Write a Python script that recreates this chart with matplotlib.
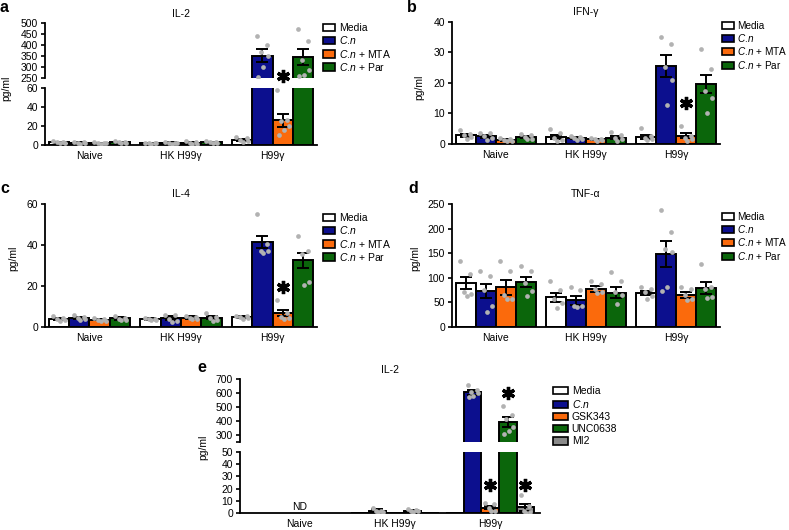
import numpy as np
import matplotlib
matplotlib.use("Agg")
import matplotlib.pyplot as plt
from matplotlib.patches import Patch

plt.rcParams['font.family'] = ['Liberation Sans', 'DejaVu Sans']
plt.rcParams['mathtext.fontset'] = 'custom'
plt.rcParams['mathtext.rm'] = 'Liberation Sans'
plt.rcParams['mathtext.it'] = 'Liberation Sans:italic'

W, H = 789, 530

groups = ["Naive", "HK H99\u03b3", "H99\u03b3"]
CN = r"$\mathit{C.\!n}$"
leg_abcd = ["Media", CN, CN + " + MTA", CN + " + Par"]
leg_e = ["Media", CN, "GSK343", "UNC0638", "MI2"]
col_abcd = ["white", "#0c0f8e", "#fb6a0c", "#0b660b"]
col_e = ["white", "#0c0f8e", "#fb6a0c", "#0b660b", "#8a8a8a"]

# a: IL-2 (rows = groups, cols = treatments)
a_mean = [[3.0, 2.5, 2.2, 3.0], [2.0, 2.3, 2.5, 3.0], [5.5, 352, 26, 345]]
a_sem = [[0.5, 0.4, 0.3, 0.5], [0.2, 0.4, 0.6, 0.5], [1.0, 28, 7, 38]]
a_dots = [
    [[4, 3.5, 3, 2.5, 2], [3.5, 3, 2.5, 2, 1.5], [3, 2.5, 2, 2, 1.5], [4.5, 3.5, 3, 2, 2]],
    [[2.5, 2.2, 2, 1.8, 1.5], [3.5, 2.5, 2, 2, 1.5], [4.5, 3, 2, 1.5, 1.5], [4.5, 3.5, 3, 2, 2]],
    [[8, 7, 5, 4, 3], [440, 400, 370, 350, 300, 255], [58, 26, 25, 20, 16, 11],
     [475, 420, 330, 285, 265, 258]],
]

# b: IFN-gamma
b_mean = [[2.9, 2.5, 1.4, 2.4], [2.3, 2.0, 1.5, 2.1], [2.3, 25.5, 2.7, 19.7]]
b_sem = [[0.5, 0.5, 0.3, 0.3], [0.7, 0.3, 0.3, 0.5], [0.6, 3.6, 0.8, 3.0]]
b_dots = [
    [[4.6, 3.4, 2.9, 2.2, 1.6], [3.7, 3.6, 2.6, 2.0, 1.2], [2.0, 1.6, 1.3, 1.0, 0.9], [3.3, 2.8, 2.2, 1.8, 1.5]],
    [[4.9, 3.7, 1.9, 1.4, 1.0], [2.5, 2.2, 2.0, 1.5, 1.2], [2.0, 1.8, 1.5, 1.2, 1.0], [3.8, 2.8, 2.0, 1.5, 1.0]],
    [[5.1, 2.6, 2.0, 1.5, 1.2], [35, 32.8, 25.4, 21.1, 12.7], [5.8, 2.5, 2.0, 1.5, 1.0], [31.3, 24.7, 17.3, 15.1, 10]],
]

# c: IL-4
c_mean = [[4.0, 4.5, 3.6, 4.2], [3.8, 4.2, 4.6, 4.6], [4.9, 41.5, 7.0, 32.5]]
c_sem = [[0.5, 0.6, 0.4, 0.6], [0.4, 1.0, 0.6, 0.8], [0.5, 3.0, 1.5, 3.8]]
c_dots = [
    [[5.5, 4.5, 4, 3.5, 3], [6, 5, 4.5, 4, 3.5], [4.5, 4, 3.5, 3, 3], [5.5, 4.5, 4, 3.5, 3.5]],
    [[4.5, 4, 3.8, 3.5, 3.2], [6, 6, 4, 3, 2.5], [5.5, 5, 4.5, 4, 4], [7, 5, 4.5, 3.5, 3]],
    [[5.5, 5.5, 5, 4.5, 4], [55, 40.5, 37, 37, 36], [13, 7, 5, 4.5, 4], [44.5, 37, 35.5, 22, 20.5]],
]

# d: TNF-alpha
d_mean = [[89, 73, 81, 92], [60, 54, 77, 70], [69, 148, 65, 79]]
d_sem = [[12, 15, 15, 10], [9, 9, 6, 11], [4, 26, 7, 12]]
d_dots = [
    [[134, 108, 72, 67, 64], [113, 104, 75, 43, 30], [134, 113, 66, 57, 57], [124, 113, 90, 73, 64]],
    [[93, 75, 56, 49, 38], [82, 75, 43, 42, 41], [93, 88, 78, 72, 70], [112, 93, 72, 66, 47]],
    [[81, 77, 72, 62, 57], [237, 193, 158, 152, 82, 73], [82, 78, 65, 57, 55], [128, 82, 77, 60, 58]],
]

# e: IL-2 with inhibitors (Naive not detected)
nan = np.nan
e_mean = [[nan] * 5, [0, 2.0, 0, 2.0, 0], [0, 605, 4.5, 395, 4.6]]
e_sem = [[0] * 5, [0, 1.0, 0, 0.8, 0], [0, 20, 1.5, 35, 3.0]]
e_dots = [
    [[], [], [], [], []],
    [[], [4.5, 2, 1.5, 1, 0.5], [], [3.5, 2.5, 2, 1.5, 0.5], []],
    [[], [660, 625, 610, 600, 580, 570], [8, 7, 4, 2, 1.5], [505, 445, 415, 360, 330, 310], [15, 6, 2, 0.5, 0]],
]

JIT = np.array([-0.3, 0.25, -0.08, 0.32, 0.05, -0.22])


def rect(x0, y0, x1, y1):
    return [x0 / W, 1 - y1 / H, (x1 - x0) / W, (y1 - y0) / H]


def style(ax):
    for s in ["top", "right"]:
        ax.spines[s].set_visible(False)
    for s in ["left", "bottom"]:
        ax.spines[s].set_linewidth(1.3)
    ax.tick_params(axis="y", length=3, width=1.2, labelsize=7.5, pad=2)
    ax.tick_params(axis="x", length=0, labelsize=7.5, pad=4)


def draw(ax, means, sems, dots, colors, spacing, xlim):
    n = len(colors)
    for g in range(len(means)):
        for i in range(n):
            m = means[g][i]
            if np.isnan(m):
                continue
            x = g * spacing + i - (n - 1) / 2
            ax.bar(x, m, width=1, color=colors[i], edgecolor="k", lw=1.4, zorder=2)
            if sems[g][i] > 0:
                ax.errorbar(x, m, yerr=sems[g][i], color="k", capsize=4, elinewidth=1.4,
                            capthick=1.4, zorder=3)
            d = dots[g][i]
            if len(d):
                ax.plot(x + JIT[:len(d)] * 0.9, d, "o", ms=3.4, color="#b2b2b2", mew=0, zorder=4)
    ax.set_xlim(xlim)
    ax.set_xticks([g * spacing for g in range(len(means))])
    style(ax)


def legend(fig, x, y, labels, colors, hl=1.15, hh=0.7, ls=0.12, fs=7.5, tp=0.4):
    handles = [Patch(facecolor=c, edgecolor="k", lw=1.2) for c in colors]
    fig.legend(handles, labels, loc="upper left", bbox_to_anchor=(x / W, 1 - y / H),
               frameon=False, borderpad=0, borderaxespad=0, handlelength=hl, handleheight=hh,
               handletextpad=tp, labelspacing=ls, fontsize=fs)


def star(ax, x, y):
    ax.plot(x, y, marker=(6, 2, 0), ms=9.5, mew=2.4, color="k", clip_on=False, zorder=5)


fig = plt.figure(figsize=(W / 100, H / 100), dpi=100)

S4 = 4.485
xl4 = (-2.18, 2 * S4 + 2.18)

# ---- panel a (broken axis) ----
a_up = fig.add_axes(rect(45, 23, 317, 78))
a_lo = fig.add_axes(rect(45, 88, 317, 145))
draw(a_up, a_mean, a_sem, a_dots, col_abcd, S4, xl4)
draw(a_lo, a_mean, a_sem, a_dots, col_abcd, S4, xl4)
a_up.set_ylim(250, 500)
a_up.set_yticks(range(250, 501, 50))
a_up.spines["bottom"].set_visible(False)
a_up.set_xticks([])
a_lo.set_ylim(0, 60)
a_lo.set_yticks([0, 20, 40, 60])
a_lo.set_xticklabels(groups)
a_up.set_title("IL-2", fontsize=7.5, pad=4)
star(a_up, 2 * S4 + 0.5, 259)

# ---- panel b ----
b_ax = fig.add_axes(rect(452, 22, 720, 144))
draw(b_ax, b_mean, b_sem, b_dots, col_abcd, S4, xl4)
b_ax.set_ylim(0, 40)
b_ax.set_yticks(range(0, 41, 10))
b_ax.set_xticklabels(groups)
b_ax.set_title("IFN-\u03b3", fontsize=7.5, pad=5)
star(b_ax, 2 * S4 + 0.5, 13.3)

# ---- panel c ----
c_ax = fig.add_axes(rect(45, 204, 317, 327))
draw(c_ax, c_mean, c_sem, c_dots, col_abcd, S4, xl4)
c_ax.set_ylim(0, 60)
c_ax.set_yticks([0, 20, 40, 60])
c_ax.set_xticklabels(groups)
c_ax.set_title("IL-4", fontsize=7.5, pad=5)
star(c_ax, 2 * S4 + 0.5, 19.7)

# ---- panel d ----
d_ax = fig.add_axes(rect(452, 204, 720, 327))
draw(d_ax, d_mean, d_sem, d_dots, col_abcd, S4, xl4)
d_ax.set_ylim(0, 250)
d_ax.set_yticks(range(0, 251, 50))
d_ax.set_xticklabels(groups)
d_ax.set_title("TNF-\u03b1", fontsize=7.5, pad=5)

# ---- panel e (broken axis) ----
S5 = 5.43
xl5 = (-3.41, 2 * S5 + 2.84)
e_up = fig.add_axes(rect(240, 379, 540, 442))
e_lo = fig.add_axes(rect(240, 452, 540, 513))
draw(e_up, e_mean, e_sem, e_dots, col_e, S5, xl5)
draw(e_lo, e_mean, e_sem, e_dots, col_e, S5, xl5)
e_up.set_ylim(250, 700)
e_up.set_yticks([250, 300, 400, 500, 600, 700])
e_up.set_yticklabels(["", "300", "400", "500", "600", "700"])
e_up.spines["bottom"].set_visible(False)
e_up.set_xticks([])
e_lo.set_ylim(0, 50)
e_lo.set_yticks(range(0, 51, 10))
e_lo.set_xticklabels(groups)
e_up.set_title("IL-2", fontsize=7.5, pad=4)
e_lo.text(0, 5, "ND", ha="center", va="center", fontsize=7.5)
star(e_lo, 2 * S5 + 0, 23)
star(e_lo, 2 * S5 + 2, 23)
star(e_up, 2 * S5 + 1, 600)

for ax in (a_lo, e_lo):
    ax.spines["top"].set_visible(False)

# legends
legend(fig, 323, 23, leg_abcd, col_abcd)
legend(fig, 722, 21, leg_abcd, col_abcd, fs=7.2, tp=0.35)
legend(fig, 323, 213, leg_abcd, col_abcd)
legend(fig, 722, 212, leg_abcd, col_abcd, fs=7.2, tp=0.35)
legend(fig, 553, 386, leg_e, col_e, hl=1.4, hh=0.75, ls=0.2)

# y labels
for (x, y) in [(6, 88), (419, 87), (13, 258), (415, 258), (203, 447)]:
    fig.text(x / W, 1 - y / H, "pg/ml", rotation=90, ha="center", va="center", fontsize=7.5)

# panel letters
for (x, y, t) in [(0, 12, "a"), (407, 12, "b"), (0, 193, "c"), (408, 193, "d"), (197, 372, "e")]:
    fig.text(x / W, 1 - y / H, t, fontsize=11.5, fontweight="bold", ha="left", va="baseline")

fig.savefig("out.png", dpi=100)
